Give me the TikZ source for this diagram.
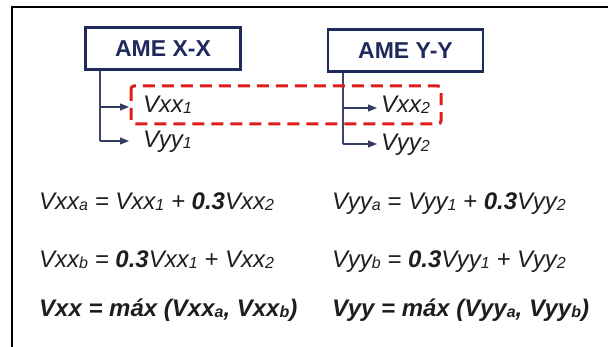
\documentclass[tikz,border=0pt]{standalone}
\usepackage{fontspec}
\setmainfont{Liberation Sans}
\usetikzlibrary{arrows.meta}
\definecolor{navy}{HTML}{1F2A5C}
\definecolor{dred}{HTML}{E01B1B}
\definecolor{ink}{HTML}{1E1E1E}
\newcommand{\sbs}[1]{\raisebox{-0.8pt}{\fontsize{16}{16}\selectfont\itshape #1}}
\newcommand{\sbsb}[1]{\raisebox{-0.8pt}{\fontsize{16}{16}\selectfont\bfseries\itshape #1}}
\tikzset{
  amebox/.style={draw=navy, line width=2.6pt, minimum width=155pt, minimum height=42pt, inner sep=0pt,
     font=\fontsize{23}{23}\selectfont\bfseries, text=navy},
  conn/.style={draw=navy!80!gray, line width=1.1pt, -{Triangle[length=9pt,width=7pt]}},
  trunk/.style={draw=navy!70!gray, line width=1.1pt},
  leaf/.style={anchor=base west, inner sep=0pt, font=\fontsize{24}{24}\selectfont\itshape, text=ink},
  eq/.style={anchor=base west, inner sep=0pt, font=\fontsize{24}{24}\selectfont\itshape, text=ink},
  eqb/.style={anchor=base west, inner sep=0pt, font=\fontsize{24}{24}\selectfont\bfseries\itshape, text=ink},
  redbox/.style={draw=dred, line width=3pt, dash pattern=on 12pt off 7pt, rounded corners=3pt}
}
\begin{document}
\begin{tikzpicture}[x=1pt,y=-1pt]
\useasboundingbox (0,0) rectangle (608,347);
\draw[line width=2.2pt, black] (12,348) -- (12,7) -- (609,7);
\node[amebox] (ame1) at (163,48.5) {AME X-X};
\node[amebox] (ame2) at (405.5,50.5) {AME Y-Y};
\node[leaf] (vxx1) at (143,113) {Vxx\sbs{1}};
\node[leaf] (vyy1) at (143,148) {Vyy\sbs{1}};
\node[leaf] (vxx2) at (381,113) {Vxx\sbs{2}};
\node[leaf] (vyy2) at (381,151) {Vyy\sbs{2}};
\coordinate (t1) at (100,141);
\coordinate (t2) at (343,144);
\coordinate (a1) at (129,107);
\coordinate (a2) at (129,141);
\coordinate (a3) at (377,108);
\coordinate (a4) at (377,144);
\draw[trunk] (ame1.south -| t1) -- (t1);
\draw[trunk] (ame2.south -| t2) -- (t2);
\draw[conn] (a1 -| t1) -- (a1);
\draw[conn] (t1) -- (a2);
\draw[conn] (a3 -| t2) -- (a3);
\draw[conn] (t2) -- (a4);
\draw[redbox] (131,86) rectangle (441,124);
\node[eq] (e1) at (39,210) {Vxx\sbs{a} = Vxx\sbs{1} + \textbf{0.3}Vxx\sbs{2}};
\node[eq] (e2) at (39,268) {Vxx\sbs{b} = \textbf{0.3}Vxx\sbs{1} + Vxx\sbs{2}};
\node[eqb] (e3) at (39,317) {Vxx = máx (Vxx\sbsb{a}, Vxx\sbsb{b})};
\node[eq] (e4) at (332,210) {Vyy\sbs{a} = Vyy\sbs{1} + \textbf{0.3}Vyy\sbs{2}};
\node[eq] (e5) at (332,268) {Vyy\sbs{b} = \textbf{0.3}Vyy\sbs{1} + Vyy\sbs{2}};
\node[eqb] (e6) at (332,317) {Vyy = máx (Vyy\sbsb{a}, Vyy\sbsb{b})};
\end{tikzpicture}
\end{document}
